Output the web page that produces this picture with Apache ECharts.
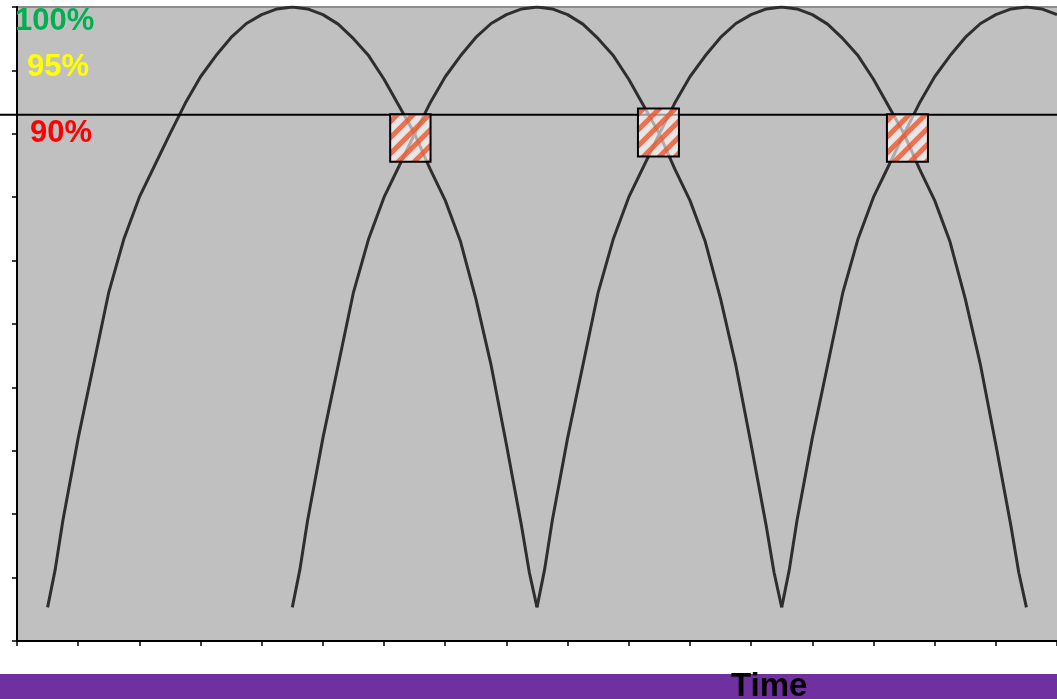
<!DOCTYPE html>
<html>
<head>
<meta charset="utf-8">
<title>Time</title>
<script src="https://cdn.jsdelivr.net/npm/echarts@6/dist/echarts.min.js"></script>
<style>
  html, body { margin: 0; padding: 0; background: #fff; }
  #chart { width: 1057px; height: 699px; }
</style>
</head>
<body>
<div id="chart"></div>
<script>
// 每条弧线的起点（x 轴刻度单位）
const arcStarts = [0.5, 4.5, 8.5, 12.5];
// 弧线形状：相对起点的偏移 / 高度（%）
const arcOffsets = [0, 0.125, 0.25, 0.5, 0.75, 1, 1.25, 1.5, 1.75, 2, 2.25, 2.5, 2.75, 3, 3.25, 3.5, 3.75, 4,
  4.25, 4.5, 4.75, 5, 5.25, 5.5, 5.75, 6, 6.25, 6.5, 6.75, 7, 7.25, 7.5, 7.75, 7.875, 8];
const arcValues = [5.3, 11.3, 19, 32, 43.5, 55, 63.5, 70, 75, 80, 84.8, 89, 92.3, 95.2, 97.4, 98.8, 99.7, 100,
  99.7, 98.8, 97.3, 95, 92.3, 88.6, 84.3, 80, 74.5, 69.5, 63, 54, 43.5, 31, 18, 10.8, 5.3];
// 交叉处的方框 [x0, x1, yLow, yHigh]
const boxes = [
  [6.10, 6.76, 75.6, 83.1],
  [10.15, 10.82, 76.4, 84.0],
  [14.22, 14.89, 75.6, 83.1]
];
const thresholdLine = [83.0];
const xMax = 17;
const yMax = 100;

const chart = echarts.init(document.getElementById('chart'));

// 斜条纹填充
function stripePattern() {
  const s = 16;
  const c = document.createElement('canvas');
  c.width = s;
  c.height = s;
  const ctx = c.getContext('2d');
  ctx.fillStyle = 'rgba(255,255,255,0.6)';
  ctx.fillRect(0, 0, s, s);
  ctx.strokeStyle = 'rgba(236,84,46,0.8)';
  ctx.lineWidth = 5;
  ctx.beginPath();
  ctx.moveTo(-4, s + 4); ctx.lineTo(s + 4, -4);
  ctx.moveTo(-4, 4); ctx.lineTo(4, -4);
  ctx.moveTo(s - 4, s + 4); ctx.lineTo(s + 4, s - 4);
  ctx.stroke();
  return c;
}
const pattern = { image: stripePattern(), repeat: 'repeat' };

const arcSeries = arcStarts.map(function (start) {
  const data = [];
  for (let i = 0; i < arcOffsets.length; i++) {
    if (start + arcOffsets[i] <= xMax) data.push([start + arcOffsets[i], arcValues[i]]);
  }
  return {
    type: 'line',
    data: data,
    showSymbol: false,
    silent: true,
    z: 2,
    lineStyle: { color: '#2e2e2e', width: 3 }
  };
});

const labelFont = 'bold 31px "Liberation Sans", Arial, sans-serif';

const option = {
  animation: false,
  grid: {
    left: 17, right: 0, top: 7, bottom: 58,
    show: true, backgroundColor: '#c0c0c0', borderWidth: 0
  },
  xAxis: [
    {
      type: 'value', position: 'bottom', min: 0, max: xMax, interval: 1,
      axisLine: { show: true, onZero: false, lineStyle: { color: '#000', width: 2 } },
      axisTick: { show: true, length: 5, lineStyle: { color: '#000', width: 1.5 } },
      axisLabel: { show: false },
      splitLine: { show: false },
      z: 4
    },
    {
      type: 'value', position: 'top', min: 0, max: xMax,
      axisLine: { show: true, onZero: false, lineStyle: { color: '#8c8c8c', width: 2 } },
      axisTick: { show: false },
      axisLabel: { show: false },
      splitLine: { show: false }
    }
  ],
  yAxis: {
    type: 'value', min: 0, max: yMax, interval: 10,
    axisLine: { show: true, onZero: false, lineStyle: { color: '#000', width: 2 } },
    axisTick: { show: true, length: 5, lineStyle: { color: '#000', width: 1.5 } },
    axisLabel: { show: false },
    splitLine: { show: false },
    z: 4
  },
  series: arcSeries.concat([
    {
      // 水平参考线，左端伸出坐标轴
      type: 'custom',
      data: thresholdLine.map(function (v) { return [v]; }),
      z: 3,
      silent: true,
      renderItem: function (params, api) {
        const y = api.coord([0, api.value(0)])[1];
        return {
          type: 'line',
          shape: { x1: 0, y1: y, x2: api.getWidth(), y2: y },
          style: { stroke: '#000', lineWidth: 2 }
        };
      }
    },
    {
      type: 'custom',
      data: boxes,
      z: 5,
      silent: true,
      renderItem: function (params, api) {
        const p0 = api.coord([api.value(0), api.value(3)]);
        const p1 = api.coord([api.value(1), api.value(2)]);
        return {
          type: 'rect',
          shape: { x: p0[0], y: p0[1], width: p1[0] - p0[0], height: p1[1] - p0[1] },
          style: { fill: pattern, stroke: '#000', lineWidth: 2 }
        };
      }
    }
  ]),
  graphic: [
    { type: 'text', left: 15, top: 21.5 - 15.5, z: 10,
      style: { text: '100%', font: labelFont, fill: '#00b050' } },
    { type: 'text', left: 27, top: 67 - 15.5, z: 10,
      style: { text: '95%', font: labelFont, fill: '#ffff00' } },
    { type: 'text', left: 30, top: 133 - 15.5, z: 10,
      style: { text: '90%', font: labelFont, fill: '#ff0000' } },
    { type: 'rect', left: 0, top: 674, z: 1,
      shape: { width: 1057, height: 25 }, style: { fill: '#7030a0' } },
    { type: 'text', left: 731, top: 686.5 - 16.5, z: 10,
      style: { text: 'Time', font: 'bold 33px "Liberation Sans", Arial, sans-serif', fill: '#000' } }
  ]
};

chart.setOption(option);
window.addEventListener('resize', function () { chart.resize(); });
</script>
</body>
</html>
